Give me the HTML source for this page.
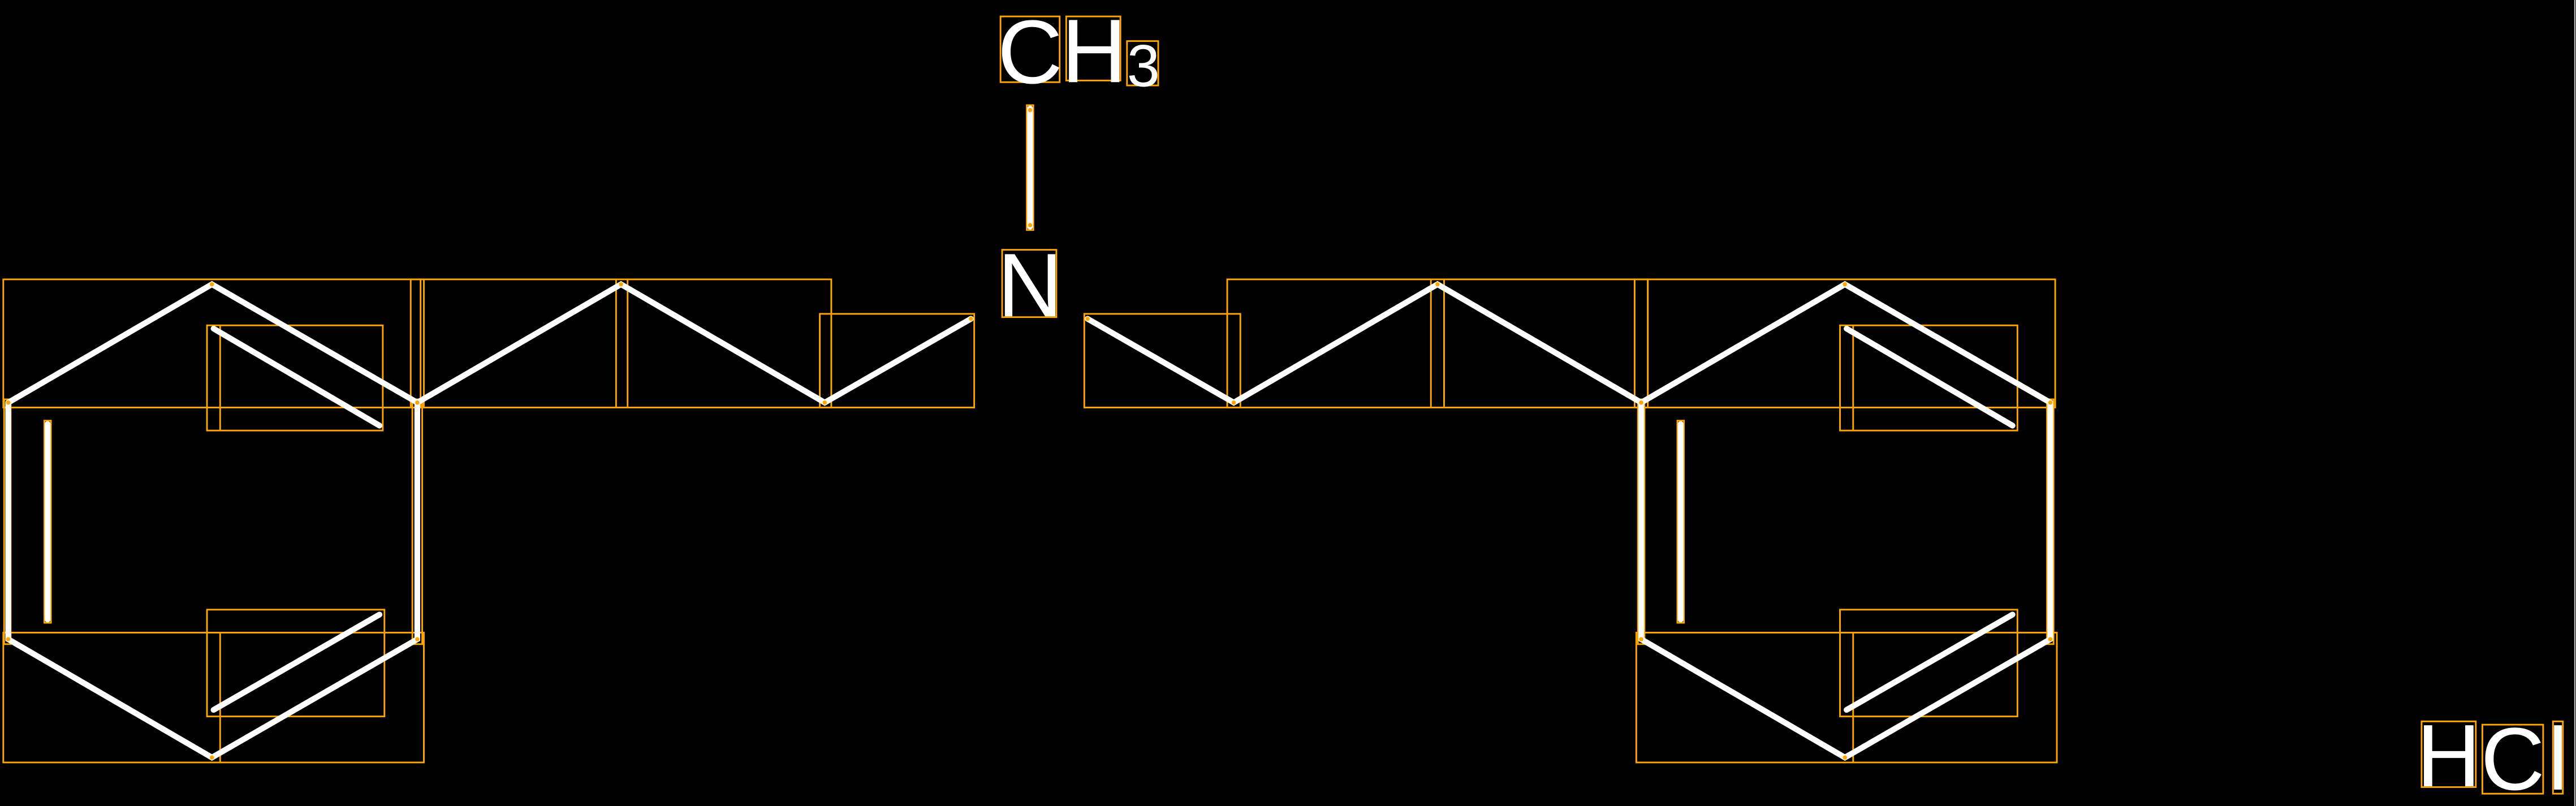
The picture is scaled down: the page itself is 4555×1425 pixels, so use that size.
<!DOCTYPE html>
<html><head><meta charset="utf-8"><style>
html,body{margin:0;padding:0;background:#000;}
svg{display:block;}
</style></head><body>
<svg width="4555" height="1425" viewBox="0 0 1568 490.5" preserveAspectRatio="none" xmlns="http://www.w3.org/2000/svg">
<rect x="0" y="0" width="1568" height="490.5" fill="#000"/>
<line x1="1567.3" y1="0" x2="1567.3" y2="490.5" stroke="#bbb" stroke-width="0.8"/>
<g fill="none" stroke="#FFA500" stroke-width="1">
<rect x="2" y="170" width="254" height="78"/>
<rect x="126" y="198" width="107" height="64"/>
<rect x="250" y="170" width="256" height="78"/>
<line x1="258" y1="170" x2="258" y2="248"/>
<line x1="375" y1="170" x2="375" y2="248"/>
<line x1="382" y1="170" x2="382" y2="248"/>
<line x1="134" y1="198" x2="134" y2="262"/>
<rect x="499" y="191" width="94" height="57"/>
<rect x="660" y="191" width="95" height="57"/>
<rect x="747" y="170" width="256" height="78"/>
<line x1="871" y1="170" x2="871" y2="248"/>
<line x1="879" y1="170" x2="879" y2="248"/>
<rect x="995" y="170" width="256" height="78"/>
<line x1="1003" y1="170" x2="1003" y2="248"/>
<rect x="1120" y="198" width="108" height="64"/>
<line x1="1128" y1="198" x2="1128" y2="262"/>
<rect x="2" y="385" width="256" height="79"/>
<rect x="126" y="371" width="108" height="65"/>
<line x1="134" y1="385" x2="134" y2="464"/>
<rect x="996" y="385" width="256" height="79"/>
<rect x="1120" y="371" width="108" height="65"/>
<line x1="1128" y1="385" x2="1128" y2="464"/>
<rect x="2.5" y="243" width="4" height="149"/>
<rect x="251" y="243" width="6" height="149"/>
<rect x="27" y="256" width="4" height="123"/>
<rect x="997" y="243" width="4" height="149"/>
<rect x="1246" y="243" width="4" height="149"/>
<rect x="1021" y="256" width="4" height="123"/>
<rect x="625" y="64" width="4" height="76"/>
<rect x="609" y="10" width="36" height="40"/>
<rect x="649" y="10" width="33" height="39"/>
<rect x="686" y="25" width="19" height="27"/>
<rect x="610" y="152" width="33" height="41"/>
<rect x="1474" y="439" width="33" height="40"/>
<rect x="1511" y="441" width="37" height="42"/>
<rect x="1554" y="439" width="6" height="44"/>
</g>
<g stroke="#fff" stroke-width="3.5" stroke-linecap="round" fill="none">
<polyline points="5,245 129,173 254,245 254,389 129,461 5,389 5,245"/>
<line x1="130" y1="200" x2="231" y2="259"/>
<line x1="29" y1="258" x2="29" y2="377"/>
<line x1="130" y1="432" x2="231" y2="374"/>
<polyline points="254,245 378,173 502,245 591,194"/>
<line x1="627" y1="66" x2="627" y2="138"/>
<polyline points="662,194 751,245 875,173 999,245"/>
<polyline points="999,245 1123,173 1248,245 1248,389 1123,461 999,389 999,245"/>
<line x1="1023" y1="258" x2="1023" y2="377"/>
<line x1="1124" y1="200" x2="1225" y2="259"/>
<line x1="1124" y1="432" x2="1225" y2="374"/>
</g>
<g fill="#FFA500">
<circle cx="129" cy="173" r="1.3"/><circle cx="5" cy="245" r="1.3"/><circle cx="254" cy="245" r="1.3"/>
<circle cx="5" cy="389" r="1.3"/><circle cx="254" cy="389" r="1.3"/><circle cx="129" cy="461" r="1.3"/>
<circle cx="378" cy="173" r="1.3"/><circle cx="502" cy="245" r="1.3"/><circle cx="591" cy="194" r="1.3"/>
<circle cx="662" cy="194" r="1.3"/><circle cx="751" cy="245" r="1.3"/><circle cx="875" cy="173" r="1.3"/>
<circle cx="999" cy="245" r="1.3"/><circle cx="1123" cy="173" r="1.3"/><circle cx="1248" cy="245" r="1.3"/>
<circle cx="1248" cy="389" r="1.3"/><circle cx="1123" cy="461" r="1.3"/><circle cx="999" cy="389" r="1.3"/>
<circle cx="627" cy="67" r="1.3"/><circle cx="627" cy="137" r="1.3"/>
</g>
<g fill="#fff" font-family="Liberation Sans, sans-serif" text-anchor="middle">
<text x="627" y="50.6" font-size="55">C</text>
<text x="666" y="50" font-size="55">H</text>
<text x="696" y="52.5" font-size="36">3</text>
<text x="627" y="192.5" font-size="55">N</text>
<text x="1490.5" y="478.5" font-size="54">H</text>
<text x="1529.5" y="480.5" font-size="54">C</text>
<text x="1557" y="480.5" font-size="54">l</text>
</g>
</svg>
</body></html>
